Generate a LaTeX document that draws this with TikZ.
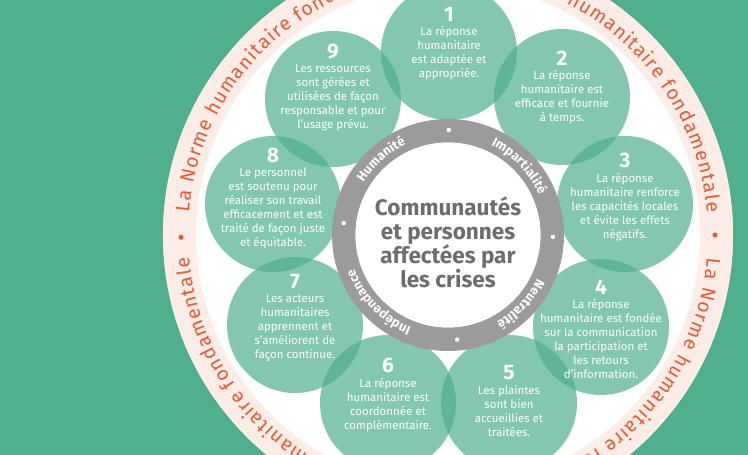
\documentclass[tikz,border=0pt]{standalone}
\usepackage{fontspec}
\setmainfont{Fira Sans}
\usetikzlibrary{positioning,decorations.text}

\definecolor{bggreen}{RGB}{80,176,142}
\definecolor{ringgrey}{RGB}{155,155,158}
\definecolor{coregrey}{RGB}{108,109,112}
\definecolor{peach}{RGB}{253,237,230}
\definecolor{normred}{RGB}{236,88,54}

\begin{document}
\begin{tikzpicture}[x=1pt,y=1pt,
  disc/.style={circle,minimum size=136pt,inner sep=0pt,fill=bggreen,fill opacity=0.7},
  num/.style={text=white,font=\fontsize{21}{21}\selectfont\bfseries,inner sep=0pt},
  desc/.style={text=white,font=\fontsize{11.5}{14}\selectfont,align=center,inner sep=0pt},
  core/.style={text=coregrey,font=\fontsize{22.5}{24}\selectfont\bfseries,align=center,inner sep=0pt},
  normtext/.style={decorate,decoration={text along path,text align=fit to path,
    text={|\fontsize{19.5}{19.5}\selectfont\color{normred}|La Norme humanitaire fondamentale}}},
  principle/.style={decorate,decoration={text along path,text align=center,
    text={|\fontsize{13}{13}\selectfont\bfseries\color{white}|#1}}},
  dot/.style={circle,inner sep=0pt,minimum size=#1}]
  \useasboundingbox (-448,-220) rectangle (300,235);
  \clip (-448,-220) rectangle (300,235);
  \fill[bggreen] (-448,-220) rectangle (300,235);

  % outer ring
  \fill[white] (0,0) circle[radius=285];
  \draw[peach,line width=33pt] (0,0) circle[radius=268.5];
  \path[normtext] (175:260) arc[start angle=175,end angle=95,radius=260];
  \path[normtext] (85:260) arc[start angle=85,end angle=5,radius=260];
  \path[normtext] (-5:260) arc[start angle=-5,end angle=-85,radius=260];
  \path[normtext] (-95:260) arc[start angle=-95,end angle=-175,radius=260];
  \node[dot=5pt,fill=normred] (b1) at (0:267) {};
  \node[dot=5pt,fill=normred] (b2) at (90:267) {};
  \node[dot=5pt,fill=normred] (b3) at (180.5:267) {};
  \node[dot=5pt,fill=normred] (b4) at (270:267) {};

  % the nine commitments
  \node[disc] (c1) at (1,183) {};
  \node[disc] (c2) at (114,138) {};
  \node[disc] (c3) at (177,31) {};
  \node[disc] (c4) at (153,-92) {};
  \node[disc] (c5) at (61,-168) {};
  \node[disc] (c6) at (-60,-168) {};
  \node[disc] (c7) at (-153,-90) {};
  \node[disc] (c8) at (-175,31) {};
  \node[disc] (c9) at (-115,136) {};

  \node[num] (n1) at ([yshift=38pt]c1.center) {1};
  \node[desc, below=5pt of n1] (t1) {La réponse\\humanitaire\\est adaptée et\\appropriée.};
  \node[num] (n2) at ([yshift=39pt]c2.center) {2};
  \node[desc, below=5pt of n2] (t2) {La réponse\\humanitaire est\\efficace et fournie\\à temps.};
  \node[num] (n3) at ([yshift=44pt]c3.center) {3};
  \node[desc, below=5pt of n3] (t3) {La réponse\\humanitaire renforce\\les capacités locales\\et évite les effets\\négatifs.};
  \node[num] (n4) at ([yshift=40pt]c4.center) {4};
  \node[desc, below=5pt of n4] (t4) {La réponse\\humanitaire est fondée\\sur la communication\\la participation et\\les retours\\d’information.};
  \node[num] (n5) at ([yshift=30pt]c5.center) {5};
  \node[desc, below=5pt of n5] (t5) {Les plaintes\\sont bien\\accueillies et\\traitées.};
  \node[num] (n6) at ([yshift=38pt]c6.center) {6};
  \node[desc, below=5pt of n6] (t6) {La réponse\\humanitaire est\\coordonnée et\\complémentaire.};
  \node[num] (n7) at ([yshift=43pt]c7.center) {7};
  \node[desc, below=5pt of n7] (t7) {Les acteurs\\humanitaires\\apprennent et\\s’améliorent de\\façon continue.};
  \node[num] (n8) at ([yshift=49pt]c8.center) {8};
  \node[desc, below=5pt of n8] (t8) {Le personnel\\est soutenu pour\\réaliser son travail\\efficacement et est\\traité de façon juste\\et équitable.};
  \node[num] (n9) at ([yshift=47pt]c9.center) {9};
  \node[desc, below=5pt of n9] (t9) {Les ressources\\sont gérées et\\utilisées de façon\\responsable et pour\\l’usage prévu.};

  % principles ring
  \draw[ringgrey,line width=23.5pt] (0,0) circle[radius=104.25];
  \fill[white] (0,0) circle[radius=92.5];
  \path[principle={Humanité}] (172:99.5) arc[start angle=172,end angle=91,radius=99.5];
  \path[principle={Impartialité}] (87:99.5) arc[start angle=87,end angle=1,radius=99.5];
  \path[principle={Neutralité}] (-3:99.5) arc[start angle=-3,end angle=-84,radius=99.5];
  \path[principle={Indépendance}] (-88:99.5) arc[start angle=-88,end angle=-184,radius=99.5];
  \node[dot=4.5pt,fill=white] (d1) at (89.5:105) {};
  \node[dot=4.5pt,fill=white] (d2) at (-1:105) {};
  \node[dot=4.5pt,fill=white] (d3) at (-85:105) {};
  \node[dot=4.5pt,fill=white] (d4) at (173.5:105) {};

  \node[core] (people) at (0,-7) {Communautés\\et personnes\\affectées par\\les crises};
\end{tikzpicture}
\end{document}
